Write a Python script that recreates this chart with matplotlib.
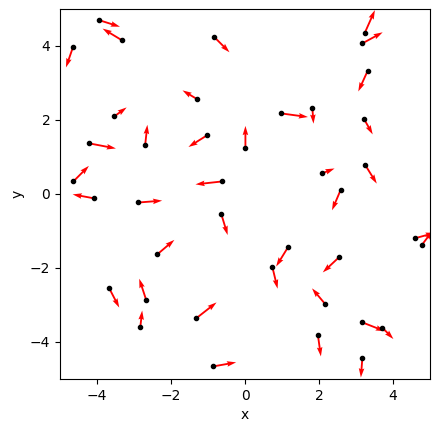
import numpy as np
import matplotlib
matplotlib.use("Agg")
import matplotlib.pyplot as plt

# particle positions
px = [-4.65, -3.95, -3.32, -3.53, -2.70, -4.22, -4.64, -4.07, -2.88, -2.37,
      -0.83, -1.29, 0.96, 1.82, -1.02, 0.01, -0.61, -0.64, 1.16, 0.74,
      -1.32, -0.86, 1.97, 2.17, -3.67, -2.67, -2.83, 2.55, 3.17, 3.71,
      3.17, 3.23, 3.17, 3.31, 3.22, 2.09, 3.25, 2.58, 4.58, 4.77]
py = [3.97, 4.70, 4.15, 2.10, 1.32, 1.37, 0.34, -0.12, -0.23, -1.63,
      4.24, 2.56, 2.18, 2.32, 1.59, 1.23, 0.34, -0.55, -1.44, -1.98,
      -3.36, -4.66, -3.82, -2.98, -2.55, -2.87, -3.59, -1.70, -3.47, -3.61,
      -4.44, 4.34, 4.07, 3.32, 2.02, 0.56, 0.78, 0.10, -1.20, -1.39]

# velocities
vx = [-0.19, 0.57, -0.53, 0.33, 0.06, 0.73, 0.42, -0.59, 0.64, 0.46,
      0.41, -0.40, 0.74, 0.03, -0.51, 0.00, -0.73, 0.17, -0.32, 0.14,
      0.55, 0.62, 0.08, -0.36, 0.27, -0.19, 0.05, -0.45, 0.61, 0.30,
      -0.04, 0.28, 0.55, -0.25, 0.23, 0.33, 0.31, -0.23, 0.55, 0.30]
vy = [-0.55, -0.18, 0.32, 0.24, 0.55, -0.14, 0.42, 0.11, 0.05, 0.39,
      -0.41, 0.24, -0.10, -0.42, -0.32, 0.61, -0.08, -0.56, -0.52, -0.58,
      0.43, 0.11, -0.57, 0.43, -0.52, 0.58, 0.44, -0.42, -0.24, -0.31,
      -0.52, 0.63, 0.30, -0.55, -0.41, 0.13, -0.50, -0.54, 0.15, 0.40]

fig = plt.figure(figsize=(4.39, 4.32), dpi=100)
ax = fig.add_axes([0.1367, 0.1227, 0.843, 0.8565])

ax.quiver(px, py, vx, vy, color="red", angles="xy", scale_units="xy", scale=1,
          width=0.005)
ax.plot(px, py, "k.", zorder=3)

ax.set_xlim(-5, 5)
ax.set_ylim(-5, 5)
ax.set_aspect("equal")
ax.set_xticks([-4, -2, 0, 2, 4])
ax.set_yticks([-4, -2, 0, 2, 4])
ax.set_xlabel("x")
ax.set_ylabel("y")

fig.savefig("out.png", dpi=100)
